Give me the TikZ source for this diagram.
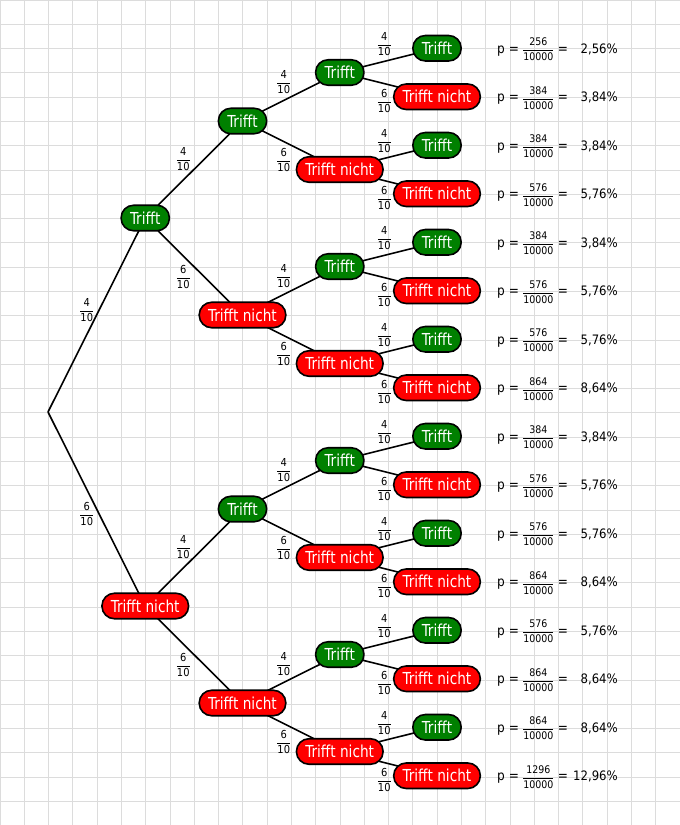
\documentclass[tikz,border=0pt]{standalone}
\usepackage{fontspec}
\setmainfont{DejaVu Sans Condensed}
\newfontfamily\knotenfont{DejaVu Sans Condensed}[FakeStretch=0.92]
\usetikzlibrary{calc, trees, backgrounds}
\definecolor{gruen}{RGB}{0,128,0}
\definecolor{rot}{RGB}{255,0,0}
\definecolor{gitter}{RGB}{220,220,220}
\newcommand{\bruch}[3][11]{{\fontsize{#1}{13}\selectfont\nulldelimiterspace=0.6pt$\displaystyle\frac{\mbox{#2}}{\mbox{#3}}$}}
\tikzset{
    knoten/.style={rectangle, rounded corners=12.5pt, draw=black, line width=1.6pt, text=white, font=\knotenfont\fontsize{16.5}{18}\selectfont, minimum height=25.5pt, inner xsep=9pt, inner ysep=0pt},
    treffer/.style={knoten, fill=gruen},
    fehler/.style={knoten, fill=rot},
    ast/.style={line width=1.6pt, black},
    zahl/.style={inner sep=0pt},
    wtext/.style={inner sep=0pt, font=\fontsize{13.5}{16}\selectfont}
}

\begin{document}
\begin{tikzpicture}[x=1pt, y=1pt, grow'=right, level distance=97.25pt, edge from parent/.style={draw=none},
    level 1/.style={sibling distance=388pt}, level 2/.style={sibling distance=194pt},
    level 3/.style={sibling distance=97pt}, level 4/.style={sibling distance=48.5pt}]
    \useasboundingbox (0,0) rectangle (680,-825);
    \begin{scope}[on background layer]
        \fill[white] (0,0) rectangle (680,-825);
        \draw[gitter, line width=0.9pt, step=24.2857pt] (0,-825) grid (680,0);
    \end{scope}

    % Baum: t = Trifft, n = Trifft nicht
    \node[coordinate] (w) at (48,-412) {}
    child {node[treffer] (wt) {Trifft}
        child {node[treffer] (wtt) {Trifft}
            child {node[treffer] (wttt) {Trifft}
                child {node[treffer] (wtttt) {Trifft}}
                child {node[fehler] (wtttn) {Trifft nicht}}
            }
            child {node[fehler] (wttn) {Trifft nicht}
                child {node[treffer] (wttnt) {Trifft}}
                child {node[fehler] (wttnn) {Trifft nicht}}
            }
        }
        child {node[fehler] (wtn) {Trifft nicht}
            child {node[treffer] (wtnt) {Trifft}
                child {node[treffer] (wtntt) {Trifft}}
                child {node[fehler] (wtntn) {Trifft nicht}}
            }
            child {node[fehler] (wtnn) {Trifft nicht}
                child {node[treffer] (wtnnt) {Trifft}}
                child {node[fehler] (wtnnn) {Trifft nicht}}
            }
        }
    }
    child {node[fehler] (wn) {Trifft nicht}
        child {node[treffer] (wnt) {Trifft}
            child {node[treffer] (wntt) {Trifft}
                child {node[treffer] (wnttt) {Trifft}}
                child {node[fehler] (wnttn) {Trifft nicht}}
            }
            child {node[fehler] (wntn) {Trifft nicht}
                child {node[treffer] (wntnt) {Trifft}}
                child {node[fehler] (wntnn) {Trifft nicht}}
            }
        }
        child {node[fehler] (wnn) {Trifft nicht}
            child {node[treffer] (wnnt) {Trifft}
                child {node[treffer] (wnntt) {Trifft}}
                child {node[fehler] (wnntn) {Trifft nicht}}
            }
            child {node[fehler] (wnnn) {Trifft nicht}
                child {node[treffer] (wnnnt) {Trifft}}
                child {node[fehler] (wnnnn) {Trifft nicht}}
            }
        }
    };

    % Aeste und Wahrscheinlichkeiten
    \foreach \p/\abst in {w/11, wt/15, wn/15, wtt/16.5, wtn/16.5, wnt/16.5, wnn/16.5,
        wttt/17, wttn/17, wtnt/17, wtnn/17, wntt/17, wntn/17, wnnt/17, wnnn/17} {
        \begin{scope}[on background layer]
            \draw[ast] (\p.center) -- (\p t.center);
            \draw[ast] (\p.center) -- (\p n.center);
        \end{scope}
        \coordinate (mo) at ($(\p.center)!.5!(\p t.center)$);
        \coordinate (mu) at ($(\p.center)!.5!(\p n.center)$);
        \node[zahl] (l\p t) at ($(mo)!\abst pt!90:(\p t.center)$) {\bruch{4}{10}};
        \node[zahl] (l\p n) at ($(mu)!\abst pt!-90:(\p n.center)$) {\bruch{6}{10}};
    }

    % Pfadwahrscheinlichkeiten
    \foreach \blatt/\zaehler/\proz in {wtttt/256/{2,56}, wtttn/384/{3,84}, wttnt/384/{3,84}, wttnn/576/{5,76},
        wtntt/384/{3,84}, wtntn/576/{5,76}, wtnnt/576/{5,76}, wtnnn/864/{8,64},
        wnttt/384/{3,84}, wnttn/576/{5,76}, wntnt/576/{5,76}, wntnn/864/{8,64},
        wnntt/576/{5,76}, wnntn/864/{8,64}, wnnnt/864/{8,64}, wnnnn/1296/{12,96}} {
        \node[wtext, anchor=base west] (p\blatt) at ([xshift=60pt, yshift=-5pt]\blatt.center) {p = \bruch[10.5]{\zaehler}{10000} =};
        \node[wtext, anchor=base east, font=\fontsize{13}{16}\selectfont] (q\blatt) at ([xshift=181pt, yshift=-5pt]\blatt.center) {\proz\%};
    }
\end{tikzpicture}
\end{document}
